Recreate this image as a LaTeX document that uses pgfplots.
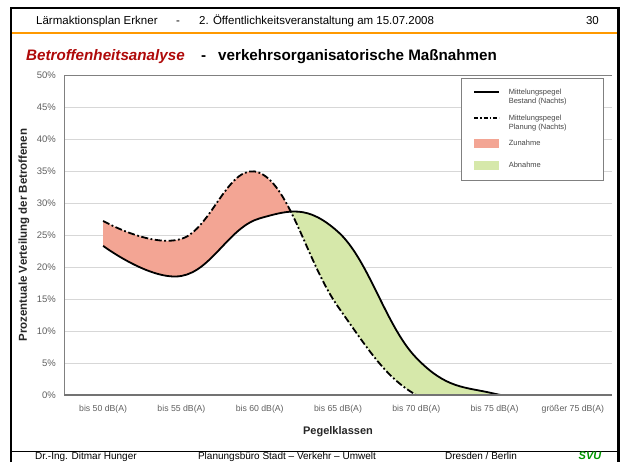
\documentclass[border=0pt]{standalone}
\usepackage{pgfplots}
\pgfplotsset{compat=1.18}
\usepackage{pgfplotstable}
\usepgfplotslibrary{fillbetween}
\usepackage{fontspec}
\setmainfont{Liberation Sans}
\definecolor{zred}{RGB}{243,165,148}
\definecolor{zgreen}{RGB}{214,232,170}
\definecolor{titred}{RGB}{175,10,10}
\definecolor{svugreen}{RGB}{0,150,0}
\definecolor{orng}{RGB}{255,153,0}
\definecolor{tickgray}{RGB}{95,95,95}
\definecolor{gridgray}{RGB}{215,215,215}
\definecolor{leggray}{RGB}{70,70,70}

\pgfplotstableread{
x B P
0 23.3 27.2
1 18.6 24.4
2 27.6 34.7
3 25.5 13.8
4 5.8 0.0
5 0.2 0.0
6 0.0 0.0
}\datatable

\begin{document}
\begin{tikzpicture}
\path (0,0) rectangle (624pt,462pt);
% frame
\draw[black, line width=2pt] (10.8pt,0pt) -- (10.8pt,453.5pt) -- (618pt,453.5pt);
\draw[black, line width=3pt] (618.5pt,455pt) -- (618.5pt,0pt);
% header
\node[anchor=base west, inner sep=0pt, font=\fontsize{11.5}{13}\selectfont] at (36pt,437pt) {Lärmaktionsplan Erkner};
\node[anchor=base west, inner sep=0pt, font=\fontsize{11.5}{13}\selectfont] at (176pt,437pt) {-};
\node[anchor=base west, inner sep=0pt, font=\fontsize{11.5}{13}\selectfont] at (199pt,437pt) {2. Öffentlichkeitsveranstaltung am 15.07.2008};
\node[anchor=base east, inner sep=0pt, font=\fontsize{11.5}{13}\selectfont] at (599pt,437pt) {30};
\draw[orng, line width=2pt] (12pt,429pt) -- (617pt,429pt);
% title
\node[anchor=base west, inner sep=0pt, font=\fontsize{15.2}{18}\bfseries\itshape\selectfont, text=titred] at (26pt,401pt) {Betroffenheitsanalyse};
\node[anchor=base west, inner sep=0pt, font=\fontsize{15.2}{18}\bfseries\selectfont] at (201pt,401pt) {-};
\node[anchor=base west, inner sep=0pt, font=\fontsize{15.2}{18}\bfseries\selectfont] at (218pt,401pt) {verkehrsorganisatorische Maßnahmen};
% footer
\draw[black, line width=1pt] (11pt,10.3pt) -- (617pt,10.3pt);
\node[anchor=base west, inner sep=0pt, font=\fontsize{10}{12}\selectfont] at (35pt,2.2pt) {Dr.-Ing. Ditmar Hunger};
\node[anchor=base, inner sep=0pt, font=\fontsize{10}{12}\selectfont] at (287pt,2.2pt) {Planungsbüro Stadt – Verkehr – Umwelt};
\node[anchor=base, inner sep=0pt, font=\fontsize{10}{12}\selectfont] at (481pt,2.2pt) {Dresden / Berlin};
\node[anchor=base, inner sep=0pt, font=\fontsize{11}{13}\bfseries\itshape\selectfont, text=svugreen] at (590pt,2.2pt) {SVU};

\begin{axis}[
  at={(64pt,67pt)}, anchor=south west,
  scale only axis, width=548pt, height=320pt,
  xmin=-0.5, xmax=6.5, ymin=0, ymax=50,
  xtick={0,1,2,3,4,5,6},
  xticklabels={bis 50 dB(A), bis 55 dB(A), bis 60 dB(A), bis 65 dB(A), bis 70 dB(A), bis 75 dB(A), größer 75 dB(A)},
  ytick={0,5,10,15,20,25,30,35,40,45,50},
  yticklabels={0\%,5\%,10\%,15\%,20\%,25\%,30\%,35\%,40\%,45\%,50\%},
  major tick length=0pt,
  tick style={draw=none},
  ymajorgrids,
  grid style={gridgray, line width=0.9pt},
  axis line style={draw=none},
  xticklabel style={font=\fontsize{8.7}{10}\selectfont, text=tickgray, inner sep=0pt, yshift=-10pt},
  yticklabel style={font=\fontsize{9.5}{11}\selectfont, text=tickgray, inner sep=0pt, xshift=-8pt},
  xlabel={Pegelklassen},
  xlabel style={at={(axis description cs:0.5,-0.1156)}, anchor=center, font=\fontsize{11}{13}\bfseries\selectfont, text=black!85},
  ylabel={Prozentuale Verteilung der Betroffenen},
  ylabel style={at={(axis description cs:-0.073,0.5)}, anchor=center, font=\fontsize{11.5}{13}\bfseries\selectfont, text=black!85},
  legend style={at={(0.9836,0.9906)}, anchor=north east, draw=gray, fill=white,
    font=\fontsize{7.5}{9}\selectfont, text=leggray, inner xsep=12pt, inner ysep=9pt, row sep=11pt,
    cells={anchor=base west, inner sep=1pt},
    /tikz/every odd column/.append style={column sep=7pt}},
]
\addplot[name path=B, draw=none, smooth, tension=0.7, forget plot] table[x=x,y=B]{\datatable};
\addplot[name path=P, draw=none, smooth, tension=0.7, forget plot] table[x=x,y=P]{\datatable};
\addplot[fill=zgreen, draw=none, forget plot] fill between[of=P and B, split, every segment no 0/.style={fill=zred}];

\addplot[black, line width=1.8pt, smooth, tension=0.7, forget plot] table[x=x,y=B]{\datatable};
\addplot[black, line width=1.8pt, dash pattern=on 7pt off 2.5pt on 1.8pt off 2.5pt, smooth, tension=0.7, forget plot] table[x=x,y=P]{\datatable};

\draw[gray, line width=0.8pt] (rel axis cs:0,0) -- (rel axis cs:0,1) -- (rel axis cs:1,1);
\draw[black!55, line width=1.2pt] (rel axis cs:0,0) -- (rel axis cs:1,0);

\addlegendimage{legend image code/.code={\draw[black,line width=1.6pt] (0pt,2.5pt) -- (25pt,2.5pt);}}
\addlegendentry{\parbox[t]{80pt}{Mittelungspegel\\Bestand (Nachts)}}
\addlegendimage{legend image code/.code={\draw[black,line width=1.6pt, dash pattern=on 4pt off 2pt on 1.5pt off 2pt] (0pt,2.5pt) -- (25pt,2.5pt);}}
\addlegendentry{\parbox[t]{80pt}{\rule{0pt}{9.6pt}Mittelungspegel\\Planung (Nachts)}}
\addlegendimage{legend image code/.code={\fill[zred] (0pt,-1pt) rectangle (24pt,6.5pt);}}
\addlegendentry{\parbox[t]{80pt}{\rule{0pt}{8.6pt}Zunahme}}
\addlegendimage{legend image code/.code={\fill[zgreen] (0pt,-1pt) rectangle (24pt,6.5pt);}}
\addlegendentry{\parbox[t]{80pt}{Abnahme}}
\end{axis}
\end{tikzpicture}
\end{document}
